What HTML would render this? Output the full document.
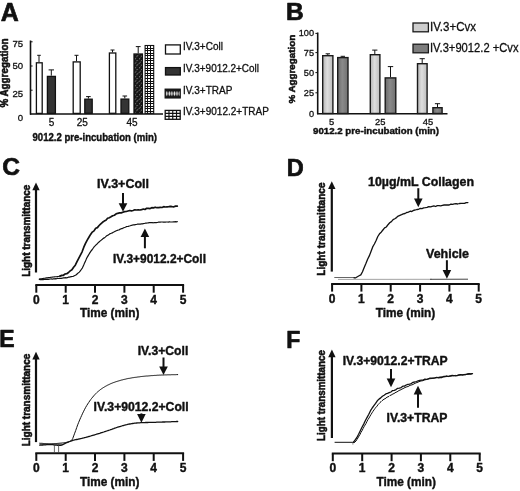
<!DOCTYPE html>
<html><head><meta charset="utf-8"><title>Figure</title>
<style>
html,body{margin:0;padding:0;background:#fff;}
svg{display:block;font-family:"Liberation Sans",sans-serif;fill:#111;}
text{stroke:#111;stroke-width:.3px;stroke-linejoin:round;}
text[font-weight=bold]{stroke-width:.4px;}
text.v{stroke-width:.55px;}
text.big{stroke-width:.7px;}
</style></head><body>
<svg width="520" height="491" viewBox="0 0 520 491">
<defs>
<pattern id="pdotsbar" width="4.3" height="9" patternUnits="userSpaceOnUse" patternTransform="translate(134 53)"><rect width="4.3" height="9" fill="#161616"/><path d="M0.9 1.6l.9-1.1M2.9 3.6l.8-1.2M1.1 6l.8-.9M2.7 8.2l.7-1" stroke="#eee" stroke-width=".75" fill="none"/></pattern>
<pattern id="pdotsleg" width="2.55" height="9" patternUnits="userSpaceOnUse" patternTransform="translate(165.5 89.1)"><rect width="2.55" height="9" fill="#161616"/><ellipse cx="1.27" cy="4.5" rx=".8" ry="2.3" fill="#f4f4f4"/></pattern>
<linearGradient id="glight" x1="0" x2="1" y1="0" y2="0"><stop offset="0" stop-color="#b4b4b4"/><stop offset=".45" stop-color="#dedede"/><stop offset="1" stop-color="#bcbcbc"/></linearGradient>
<linearGradient id="gdark" x1="0" x2="1" y1="0" y2="0"><stop offset="0" stop-color="#6a6a6a"/><stop offset=".45" stop-color="#8a8a8a"/><stop offset="1" stop-color="#707070"/></linearGradient>
</defs>
<rect width="520" height="491" fill="#fff" stroke="none"/>
<text x="0.8" y="20.5" font-size="25" font-weight="bold" class="big">A</text>
<line x1="30.5" y1="40.5" x2="30.5" y2="114.7" stroke="#111" stroke-width="1.6"/>
<line x1="30.0" y1="114.0" x2="163.0" y2="114.0" stroke="#111" stroke-width="1.5"/>
<line x1="30.5" y1="41.8" x2="32.6" y2="41.8" stroke="#111" stroke-width="1"/>
<line x1="30.5" y1="66.0" x2="32.6" y2="66.0" stroke="#111" stroke-width="1"/>
<line x1="30.5" y1="90.2" x2="32.6" y2="90.2" stroke="#111" stroke-width="1"/>
<text x="23.2" y="47.2" font-size="9.6" text-anchor="end">75</text>
<text x="23.2" y="68.6" font-size="9.6" text-anchor="end">50</text>
<text x="23.2" y="97.0" font-size="9.6" text-anchor="end">25</text>
<text x="23.2" y="120.9" font-size="9.6" text-anchor="end">0</text>
<text class="v" transform="translate(7.8 107.6) rotate(-90)" font-size="10" font-weight="bold" textLength="69.0" lengthAdjust="spacingAndGlyphs">% Aggregation</text>
<rect x="36.4" y="62.8" width="5.8" height="50.6" fill="#fff" stroke="#111" stroke-width="1.3"/>
<line x1="39.0" y1="55.3" x2="39.0" y2="62.1" stroke="#111" stroke-width="1"/>
<line x1="37.2" y1="55.3" x2="40.8" y2="55.3" stroke="#111" stroke-width="1"/>
<rect x="47.4" y="76.4" width="8.0" height="37.0" fill="#333" stroke="#111" stroke-width="1.3"/>
<line x1="51.3" y1="69.9" x2="51.3" y2="75.7" stroke="#111" stroke-width="1"/>
<line x1="48.6" y1="69.9" x2="54.0" y2="69.9" stroke="#111" stroke-width="1"/>
<rect x="73.2" y="61.9" width="7.0" height="51.5" fill="#fff" stroke="#111" stroke-width="1.3"/>
<line x1="76.5" y1="55.3" x2="76.5" y2="61.2" stroke="#111" stroke-width="1"/>
<line x1="74.5" y1="55.3" x2="78.5" y2="55.3" stroke="#111" stroke-width="1"/>
<rect x="84.8" y="99.2" width="7.4" height="14.1" fill="#333" stroke="#111" stroke-width="1.3"/>
<line x1="88.4" y1="96.6" x2="88.4" y2="98.6" stroke="#111" stroke-width="1"/>
<line x1="86.1" y1="96.6" x2="90.7" y2="96.6" stroke="#111" stroke-width="1"/>
<rect x="109.4" y="53.0" width="6.4" height="60.3" fill="#fff" stroke="#111" stroke-width="1.3"/>
<line x1="112.5" y1="50.0" x2="112.5" y2="52.4" stroke="#111" stroke-width="1"/>
<line x1="110.5" y1="50.0" x2="114.5" y2="50.0" stroke="#111" stroke-width="1"/>
<rect x="121.0" y="99.1" width="7.8" height="14.3" fill="#333" stroke="#111" stroke-width="1.3"/>
<line x1="124.8" y1="96.0" x2="124.8" y2="98.4" stroke="#111" stroke-width="1"/>
<line x1="122.5" y1="96.0" x2="127.1" y2="96.0" stroke="#111" stroke-width="1"/>
<rect x="134.0" y="54.0" width="8.4" height="59.3" fill="url(#pdotsbar)" stroke="#111" stroke-width="1.3"/>
<line x1="138.2" y1="46.6" x2="138.2" y2="53.4" stroke="#111" stroke-width="1"/>
<line x1="135.8" y1="46.6" x2="140.6" y2="46.6" stroke="#111" stroke-width="1"/>
<rect x="145.1" y="45.5" width="8.6" height="67.9" fill="#fff" stroke="#111" stroke-width="1.1"/>
<path d="M147.90 45.50V114.00M150.80 45.50V114.00M145.00 48.04H153.70M145.00 50.57H153.70M145.00 53.11H153.70M145.00 55.65H153.70M145.00 58.19H153.70M145.00 60.72H153.70M145.00 63.26H153.70M145.00 65.80H153.70M145.00 68.33H153.70M145.00 70.87H153.70M145.00 73.41H153.70M145.00 75.94H153.70M145.00 78.48H153.70M145.00 81.02H153.70M145.00 83.56H153.70M145.00 86.09H153.70M145.00 88.63H153.70M145.00 91.17H153.70M145.00 93.70H153.70M145.00 96.24H153.70M145.00 98.78H153.70M145.00 101.31H153.70M145.00 103.85H153.70M145.00 106.39H153.70M145.00 108.93H153.70M145.00 111.46H153.70" stroke="#111" stroke-width="1.0" fill="none" shape-rendering="crispEdges"/>
<text x="51.5" y="126.1" font-size="10" text-anchor="middle">5</text>
<text x="82.2" y="126.1" font-size="10" text-anchor="middle">25</text>
<text x="132.0" y="126.1" font-size="10" text-anchor="middle">45</text>
<text x="32.5" y="141.2" font-size="10.5" font-weight="bold" textLength="124.5" lengthAdjust="spacingAndGlyphs">9012.2 pre-incubation (min)</text>
<rect x="165.5" y="44.9" width="14.8" height="9.1" fill="#fff" stroke="#111" stroke-width="1.3"/>
<rect x="165.5" y="67.6" width="14.8" height="7.4" fill="#333" stroke="#111" stroke-width="1.3"/>
<rect x="165.2" y="89.2" width="15.0" height="8.7" fill="url(#pdotsleg)" stroke="#111" stroke-width="1.3"/>
<rect x="165.2" y="110.4" width="15.0" height="8.9" fill="#fff" stroke="#111" stroke-width="1.3"/>
<path d="M168.97 110.30V119.30M172.75 110.30V119.30M176.53 110.30V119.30M165.20 113.30H180.30M165.20 116.30H180.30" stroke="#111" stroke-width="1.15" fill="none"/>
<text x="183.0" y="50.0" font-size="10">IV.3+Coll</text>
<text x="183.0" y="71.5" font-size="10" textLength="76.0" lengthAdjust="spacingAndGlyphs">IV.3+9012.2+Coll</text>
<text x="183.0" y="93.5" font-size="10">IV.3+TRAP</text>
<text x="183.0" y="114.7" font-size="10">IV.3+9012.2+TRAP</text>
<text x="285.9" y="20.3" font-size="24.5" font-weight="bold" class="big">B</text>
<line x1="317.7" y1="32.5" x2="317.7" y2="114.2" stroke="#111" stroke-width="1.6"/>
<line x1="317.0" y1="113.8" x2="447.5" y2="113.8" stroke="#111" stroke-width="1.6"/>
<text x="314.0" y="35.6" font-size="9.2" text-anchor="end">100</text>
<text x="314.0" y="55.5" font-size="9.2" text-anchor="end">75</text>
<text x="314.0" y="75.6" font-size="9.2" text-anchor="end">50</text>
<text x="314.0" y="96.4" font-size="9.2" text-anchor="end">25</text>
<text x="314.0" y="116.6" font-size="9.2" text-anchor="end">0</text>
<text class="v" transform="translate(294.6 103.6) rotate(-90)" font-size="9.3" font-weight="bold" textLength="68.8" lengthAdjust="spacingAndGlyphs">% Aggregation</text>
<line x1="315.4" y1="33.4" x2="317.7" y2="33.4" stroke="#111" stroke-width="1"/>
<line x1="315.4" y1="52.6" x2="317.7" y2="52.6" stroke="#111" stroke-width="1"/>
<line x1="315.4" y1="72.6" x2="317.7" y2="72.6" stroke="#111" stroke-width="1"/>
<line x1="315.4" y1="92.8" x2="317.7" y2="92.8" stroke="#111" stroke-width="1"/>
<rect x="322.7" y="55.7" width="10.2" height="57.8" fill="url(#glight)" stroke="#1a1a1a" stroke-width="1.4"/>
<line x1="327.8" y1="53.8" x2="327.8" y2="55.0" stroke="#111" stroke-width="1"/>
<line x1="325.6" y1="53.8" x2="330.0" y2="53.8" stroke="#111" stroke-width="1"/>
<rect x="337.7" y="57.6" width="10.3" height="55.9" fill="url(#gdark)" stroke="#1a1a1a" stroke-width="1.4"/>
<line x1="342.8" y1="56.3" x2="342.8" y2="56.9" stroke="#111" stroke-width="1"/>
<line x1="340.6" y1="56.3" x2="345.0" y2="56.3" stroke="#111" stroke-width="1"/>
<rect x="370.3" y="54.7" width="9.6" height="58.8" fill="url(#glight)" stroke="#1a1a1a" stroke-width="1.4"/>
<line x1="374.8" y1="50.1" x2="374.8" y2="54.0" stroke="#111" stroke-width="1"/>
<line x1="372.2" y1="50.1" x2="377.4" y2="50.1" stroke="#111" stroke-width="1"/>
<rect x="385.2" y="77.9" width="10.6" height="35.5" fill="url(#gdark)" stroke="#1a1a1a" stroke-width="1.4"/>
<line x1="390.5" y1="66.6" x2="390.5" y2="77.2" stroke="#111" stroke-width="1"/>
<line x1="387.8" y1="66.6" x2="393.2" y2="66.6" stroke="#111" stroke-width="1"/>
<rect x="417.5" y="63.7" width="9.6" height="49.8" fill="url(#glight)" stroke="#1a1a1a" stroke-width="1.4"/>
<line x1="422.2" y1="58.7" x2="422.2" y2="63.0" stroke="#111" stroke-width="1"/>
<line x1="419.6" y1="58.7" x2="424.8" y2="58.7" stroke="#111" stroke-width="1"/>
<rect x="432.9" y="107.7" width="9.2" height="5.8" fill="url(#gdark)" stroke="#1a1a1a" stroke-width="1.4"/>
<line x1="437.5" y1="103.7" x2="437.5" y2="107.0" stroke="#111" stroke-width="1"/>
<line x1="434.9" y1="103.7" x2="440.1" y2="103.7" stroke="#111" stroke-width="1"/>
<text x="331.7" y="124.9" font-size="9.4" text-anchor="middle">5</text>
<text x="380.3" y="124.9" font-size="9.4" text-anchor="middle">25</text>
<text x="428.0" y="124.9" font-size="9.4" text-anchor="middle">45</text>
<text x="313.0" y="134.4" font-size="9" font-weight="bold" textLength="126.0" lengthAdjust="spacingAndGlyphs">9012.2 pre-incubation (min)</text>
<rect x="413.0" y="23.0" width="15.4" height="8.8" fill="#cdcdcd" stroke="#1a1a1a" stroke-width="1.3"/>
<rect x="413.0" y="44.2" width="15.4" height="8.6" fill="#7d7d7d" stroke="#1a1a1a" stroke-width="1.3"/>
<text x="430.0" y="31.0" font-size="12" textLength="46.0" lengthAdjust="spacingAndGlyphs">IV.3+Cvx</text>
<text x="430.0" y="52.0" font-size="12" textLength="88.5" lengthAdjust="spacingAndGlyphs">IV.3+9012.2 +Cvx</text>
<text x="2.2" y="175.0" font-size="24.5" font-weight="bold" class="big">C</text>
<line x1="36.0" y1="272.5" x2="36.0" y2="188.6" stroke="#111" stroke-width="2.2"/>
<path d="M32.3 190.3 L39.7 190.3 L36.0 182.6 Z" fill="#111"/>
<text class="v" transform="translate(29.5 276.8) rotate(-90)" font-size="10" font-weight="bold" textLength="92.1" lengthAdjust="spacingAndGlyphs">Light transmittance</text>
<line x1="35.3" y1="285.1" x2="184.1" y2="285.1" stroke="#111" stroke-width="2"/>
<line x1="36.3" y1="285.1" x2="36.3" y2="292.7" stroke="#111" stroke-width="2"/>
<text x="36.3" y="303.9" font-size="12" font-weight="bold" text-anchor="middle">0</text>
<line x1="65.7" y1="285.1" x2="65.7" y2="292.7" stroke="#111" stroke-width="2"/>
<text x="65.7" y="303.9" font-size="12" font-weight="bold" text-anchor="middle">1</text>
<line x1="95.0" y1="285.1" x2="95.0" y2="292.7" stroke="#111" stroke-width="2"/>
<text x="95.0" y="303.9" font-size="12" font-weight="bold" text-anchor="middle">2</text>
<line x1="124.4" y1="285.1" x2="124.4" y2="292.7" stroke="#111" stroke-width="2"/>
<text x="124.4" y="303.9" font-size="12" font-weight="bold" text-anchor="middle">3</text>
<line x1="153.7" y1="285.1" x2="153.7" y2="292.7" stroke="#111" stroke-width="2"/>
<text x="153.7" y="303.9" font-size="12" font-weight="bold" text-anchor="middle">4</text>
<line x1="183.1" y1="285.1" x2="183.1" y2="292.7" stroke="#111" stroke-width="2"/>
<text x="183.1" y="303.9" font-size="12" font-weight="bold" text-anchor="middle">5</text>
<text x="109.7" y="317.3" font-size="12" font-weight="bold" text-anchor="middle" textLength="59.5" lengthAdjust="spacingAndGlyphs">Time (min)</text>
<path d="M39.3 279.0 L40.3 278.8 L41.3 278.7 L42.3 278.5 L43.3 278.4 L44.3 278.2 L45.3 278.1 L46.3 277.9 L47.3 277.8 L48.3 277.6 L49.3 277.5 L50.3 277.4 L51.3 277.2 L52.3 277.1 L53.3 277.0 L54.3 276.9 L55.3 276.8 L56.3 276.7 L57.3 276.6 L58.3 276.5 L59.3 276.3 L60.3 276.1 L61.3 275.9" fill="none" stroke="#111" stroke-width="1.1" stroke-linejoin="round" stroke-linecap="round"/>
<path d="M60.0 276.0 L61.7 275.3 L63.4 275.3 L65.1 274.0 L66.8 273.7 L68.5 272.5 L70.2 270.9 L71.9 269.8 L73.6 267.3 L75.3 265.2 L77.0 261.7 L78.7 258.4 L80.4 255.1 L82.1 251.8 L83.8 247.2 L85.5 243.4 L87.2 240.1 L88.9 237.3 L90.6 234.4 L92.3 232.1 L94.0 230.9 L95.7 228.2 L97.4 227.6 L99.1 225.5 L100.8 223.8 L102.5 222.3 L104.2 221.1 L105.9 220.3 L107.6 218.3 L109.3 217.7 L111.0 216.8 L112.7 215.7 L114.4 215.2 L116.1 213.9 L117.8 213.3 L119.5 212.9 L121.2 212.9 L122.9 212.2 L124.6 211.6 L126.3 211.5 L128.0 211.0 L129.7 210.5 L131.4 210.8 L133.1 210.5 L134.8 209.8 L136.5 210.0 L138.2 209.8 L139.9 210.0 L141.6 209.7 L143.3 209.0 L145.0 209.5 L146.7 208.3 L148.4 208.4 L150.1 208.6 L151.8 207.7 L153.5 207.9 L155.2 207.2 L156.9 207.7 L158.6 207.6 L160.3 207.3 L162.0 207.5 L163.7 206.7 L165.4 207.0 L167.1 206.8 L168.8 206.7 L170.5 206.4 L172.2 206.7 L173.9 206.8 L175.6 206.1 L177.3 206.2" fill="none" stroke="#111" stroke-width="1.7" stroke-linejoin="round" stroke-linecap="round"/>
<path d="M39.3 279.4 L40.3 279.6 L41.3 279.6 L42.3 279.7 L43.3 279.6 L44.3 279.3 L45.3 279.4 L46.3 279.4 L47.3 279.1 L48.3 279.3 L49.3 279.1 L50.3 279.0 L51.3 278.9 L52.3 279.2 L53.3 278.8 L54.3 278.8 L55.3 278.7 L56.3 278.8 L57.3 278.4 L58.3 278.5 L59.3 278.4 L60.3 278.4 L61.3 278.3 L62.3 278.2 L63.3 277.9 L64.3 277.8 L65.3 277.7 L66.3 277.8 L67.3 277.7 L68.3 277.2 L69.3 277.1 L70.3 276.9 L71.3 276.7 L72.3 276.5 L73.3 276.3 L74.3 275.8 L75.3 275.3 L76.3 274.7 L77.3 273.8 L78.3 272.9 L79.3 272.1 L80.3 270.9 L81.3 269.5 L82.3 268.1 L83.3 266.1 L84.3 263.6 L85.3 261.6 L86.3 259.1 L87.3 257.1 L88.3 255.4 L89.3 253.7 L90.3 252.2 L91.3 250.7 L92.3 249.5 L93.3 248.0 L94.3 246.7 L95.3 245.7 L96.3 244.6 L97.3 243.7 L98.3 242.6 L99.3 241.7 L100.3 240.9 L101.3 240.1 L102.3 239.3 L103.3 238.4 L104.3 237.9 L105.3 237.1 L106.3 236.1 L107.3 235.5 L108.3 234.9 L109.3 234.3 L110.3 233.6 L111.3 233.3 L112.3 232.9 L113.3 232.2 L114.3 231.8 L115.3 231.2 L116.3 230.7 L117.3 230.4 L118.3 230.0 L119.3 229.8 L120.3 229.1 L121.3 228.7 L122.3 228.6 L123.3 228.0 L124.3 227.5 L125.3 227.2 L126.3 226.7 L127.3 226.5 L128.3 226.4 L129.3 226.0 L130.3 225.7 L131.3 225.3 L132.3 225.1 L133.3 224.8 L134.3 224.9 L135.3 224.6 L136.3 224.5 L137.3 224.2 L138.3 224.0 L139.3 224.1 L140.3 224.1 L141.3 223.9 L142.3 223.8 L143.3 223.6 L144.3 223.5 L145.3 223.2 L146.3 223.2 L147.3 223.0 L148.3 222.8 L149.3 222.7 L150.3 222.7 L151.3 222.6 L152.3 222.7 L153.3 222.8 L154.3 222.5 L155.3 222.6 L156.3 222.6 L157.3 222.5 L158.3 222.2 L159.3 222.1 L160.3 222.1 L161.3 222.0 L162.3 222.0 L163.3 222.1 L164.3 222.2 L165.3 222.2 L166.3 222.0 L167.3 222.0 L168.3 222.1 L169.3 221.7 L170.3 222.0 L171.3 222.0 L172.3 222.0 L173.3 221.9 L174.3 221.8 L175.3 221.6 L176.3 221.9 L177.3 221.7" fill="none" stroke="#111" stroke-width="1.2" stroke-linejoin="round" stroke-linecap="round"/>
<line x1="123.0" y1="193.0" x2="123.0" y2="204.2" stroke="#111" stroke-width="2"/>
<path d="M118.7 203.2 L127.3 203.2 L123.0 211.8 Z" fill="#111"/>
<line x1="144.9" y1="248.3" x2="144.9" y2="236.1" stroke="#111" stroke-width="2"/>
<path d="M140.6 237.1 L149.2 237.1 L144.9 228.5 Z" fill="#111"/>
<text x="97.0" y="188.0" font-size="12" font-weight="bold" textLength="52.0" lengthAdjust="spacingAndGlyphs">IV.3+Coll</text>
<text x="113.0" y="262.5" font-size="12" font-weight="bold" textLength="93.0" lengthAdjust="spacingAndGlyphs">IV.3+9012.2+Coll</text>
<text x="286.8" y="176.0" font-size="23.5" font-weight="bold" class="big">D</text>
<line x1="331.8" y1="271.6" x2="331.8" y2="187.2" stroke="#111" stroke-width="2.2"/>
<path d="M328.1 188.9 L335.5 188.9 L331.8 181.2 Z" fill="#111"/>
<text class="v" transform="translate(325.3 275.7) rotate(-90)" font-size="10" font-weight="bold" textLength="93.2" lengthAdjust="spacingAndGlyphs">Light transmittance</text>
<line x1="331.1" y1="284.0" x2="479.7" y2="284.0" stroke="#111" stroke-width="2"/>
<line x1="332.1" y1="284.0" x2="332.1" y2="291.6" stroke="#111" stroke-width="2"/>
<text x="332.1" y="302.8" font-size="12" font-weight="bold" text-anchor="middle">0</text>
<line x1="361.4" y1="284.0" x2="361.4" y2="291.6" stroke="#111" stroke-width="2"/>
<text x="361.4" y="302.8" font-size="12" font-weight="bold" text-anchor="middle">1</text>
<line x1="390.7" y1="284.0" x2="390.7" y2="291.6" stroke="#111" stroke-width="2"/>
<text x="390.7" y="302.8" font-size="12" font-weight="bold" text-anchor="middle">2</text>
<line x1="420.1" y1="284.0" x2="420.1" y2="291.6" stroke="#111" stroke-width="2"/>
<text x="420.1" y="302.8" font-size="12" font-weight="bold" text-anchor="middle">3</text>
<line x1="449.4" y1="284.0" x2="449.4" y2="291.6" stroke="#111" stroke-width="2"/>
<text x="449.4" y="302.8" font-size="12" font-weight="bold" text-anchor="middle">4</text>
<line x1="478.7" y1="284.0" x2="478.7" y2="291.6" stroke="#111" stroke-width="2"/>
<text x="478.7" y="302.8" font-size="12" font-weight="bold" text-anchor="middle">5</text>
<text x="405.4" y="317.3" font-size="12" font-weight="bold" text-anchor="middle" textLength="59.5" lengthAdjust="spacingAndGlyphs">Time (min)</text>
<line x1="338.0" y1="279.4" x2="432.0" y2="279.3" stroke="#999" stroke-width="0.9"/>
<line x1="430.0" y1="279.3" x2="468.0" y2="279.2" stroke="#444" stroke-width="1.0"/>
<line x1="334.3" y1="277.5" x2="355.0" y2="277.5" stroke="#555" stroke-width="0.9"/>
<path d="M354.0 277.8 L355.7 277.8 L357.4 276.8 L359.1 275.8 L360.8 274.9 L362.5 271.8 L364.2 267.6 L365.9 263.6 L367.6 259.3 L369.3 255.9 L371.0 251.5 L372.7 246.9 L374.4 244.0 L376.1 240.5 L377.8 236.5 L379.5 233.8 L381.2 232.2 L382.9 230.0 L384.6 227.9 L386.3 227.0 L388.0 224.7 L389.7 222.8 L391.4 221.6 L393.1 219.6 L394.8 218.7 L396.5 217.6 L398.2 216.1 L399.9 215.4 L401.6 214.7 L403.3 213.9 L405.0 213.5 L406.7 212.5 L408.4 212.1 L410.1 211.2 L411.8 211.5 L413.5 210.4 L415.2 210.0 L416.9 209.5 L418.6 209.3 L420.3 208.4 L422.0 208.6 L423.7 207.9 L425.4 207.7 L427.1 207.4 L428.8 206.6 L430.5 206.9 L432.2 206.3 L433.9 205.9 L435.6 206.5 L437.3 205.6 L439.0 205.7 L440.7 205.8 L442.4 205.4 L444.1 205.0 L445.8 205.0 L447.5 204.9 L449.2 205.0 L450.9 204.1 L452.6 204.4 L454.3 203.9 L456.0 203.7 L457.7 204.0 L459.4 203.5 L461.1 203.4 L462.8 203.4 L464.5 203.4 L466.2 202.6 L467.9 202.6" fill="none" stroke="#111" stroke-width="1.3" stroke-linejoin="round" stroke-linecap="round"/>
<line x1="418.3" y1="188.2" x2="418.3" y2="199.6" stroke="#111" stroke-width="2"/>
<path d="M414.0 198.6 L422.6 198.6 L418.3 207.2 Z" fill="#111"/>
<line x1="446.9" y1="260.2" x2="446.9" y2="271.1" stroke="#111" stroke-width="2"/>
<path d="M442.6 270.1 L451.2 270.1 L446.9 278.7 Z" fill="#111"/>
<text x="368.0" y="186.0" font-size="12" font-weight="bold" textLength="106.0" lengthAdjust="spacingAndGlyphs">10µg/mL Collagen</text>
<text x="426.0" y="257.5" font-size="12" font-weight="bold" textLength="43.0" lengthAdjust="spacingAndGlyphs">Vehicle</text>
<text x="-0.7" y="347.0" font-size="23" font-weight="bold" class="big">E</text>
<line x1="36.0" y1="442.1" x2="36.0" y2="357.8" stroke="#111" stroke-width="2.2"/>
<path d="M32.3 359.5 L39.7 359.5 L36.0 351.8 Z" fill="#111"/>
<text class="v" transform="translate(29.5 446.3) rotate(-90)" font-size="10" font-weight="bold" textLength="92.6" lengthAdjust="spacingAndGlyphs">Light transmittance</text>
<line x1="35.3" y1="453.3" x2="184.1" y2="453.3" stroke="#111" stroke-width="2"/>
<line x1="36.3" y1="453.3" x2="36.3" y2="460.9" stroke="#111" stroke-width="2"/>
<text x="36.3" y="472.1" font-size="12" font-weight="bold" text-anchor="middle">0</text>
<line x1="65.7" y1="453.3" x2="65.7" y2="460.9" stroke="#111" stroke-width="2"/>
<text x="65.7" y="472.1" font-size="12" font-weight="bold" text-anchor="middle">1</text>
<line x1="95.0" y1="453.3" x2="95.0" y2="460.9" stroke="#111" stroke-width="2"/>
<text x="95.0" y="472.1" font-size="12" font-weight="bold" text-anchor="middle">2</text>
<line x1="124.4" y1="453.3" x2="124.4" y2="460.9" stroke="#111" stroke-width="2"/>
<text x="124.4" y="472.1" font-size="12" font-weight="bold" text-anchor="middle">3</text>
<line x1="153.7" y1="453.3" x2="153.7" y2="460.9" stroke="#111" stroke-width="2"/>
<text x="153.7" y="472.1" font-size="12" font-weight="bold" text-anchor="middle">4</text>
<line x1="183.1" y1="453.3" x2="183.1" y2="460.9" stroke="#111" stroke-width="2"/>
<text x="183.1" y="472.1" font-size="12" font-weight="bold" text-anchor="middle">5</text>
<text x="109.7" y="486.4" font-size="12" font-weight="bold" text-anchor="middle" textLength="59.5" lengthAdjust="spacingAndGlyphs">Time (min)</text>
<path d="M39.7 443.2 L40.7 443.3 L41.7 443.3 L42.7 443.4 L43.7 443.5 L44.7 443.6 L45.7 443.6 L46.7 443.7 L47.7 443.7 L48.7 443.8 L49.7 443.8 L50.7 443.8 L51.7 443.8 L52.7 443.7 L53.7 443.7 L54.7 443.6 L55.7 443.6 L56.7 443.5 L57.7 443.4 L58.7 443.3 L59.7 443.2 L60.7 443.1 L61.7 443.0 L62.7 442.9 L63.7 442.8 L64.7 442.6 L65.7 442.5 L66.7 442.3 L67.7 442.0 L68.7 441.8 L69.7 441.4 L70.7 440.9 L71.7 440.3 L72.7 438.6 L73.7 435.9 L74.7 433.2 L75.7 430.5 L76.7 427.6 L77.7 424.8 L78.7 422.3 L79.7 419.9 L80.7 417.6 L81.7 415.4 L82.7 413.2 L83.7 411.2 L84.7 409.2 L85.7 407.3 L86.7 405.6 L87.7 404.0 L88.7 402.5 L89.7 401.0 L90.7 399.6 L91.7 398.3 L92.7 397.1 L93.7 395.9 L94.7 394.8 L95.7 393.7 L96.7 392.7 L97.7 391.8 L98.7 391.0 L99.7 390.2 L100.7 389.4 L101.7 388.7 L102.7 388.0 L103.7 387.4 L104.7 386.8 L105.7 386.2 L106.7 385.7 L107.7 385.1 L108.7 384.7 L109.7 384.2 L110.7 383.7 L111.7 383.3 L112.7 382.9 L113.7 382.5 L114.7 382.2 L115.7 381.8 L116.7 381.5 L117.7 381.2 L118.7 380.9 L119.7 380.6 L120.7 380.3 L121.7 380.0 L122.7 379.8 L123.7 379.5 L124.7 379.3 L125.7 379.1 L126.7 378.8 L127.7 378.6 L128.7 378.4 L129.7 378.3 L130.7 378.1 L131.7 377.9 L132.7 377.7 L133.7 377.6 L134.7 377.4 L135.7 377.3 L136.7 377.2 L137.7 377.0 L138.7 376.9 L139.7 376.8 L140.7 376.6 L141.7 376.5 L142.7 376.4 L143.7 376.3 L144.7 376.2 L145.7 376.1 L146.7 376.0 L147.7 376.0 L148.7 375.9 L149.7 375.8 L150.7 375.7 L151.7 375.6 L152.7 375.6 L153.7 375.5 L154.7 375.4 L155.7 375.4 L156.7 375.3 L157.7 375.2 L158.7 375.2 L159.7 375.1 L160.7 375.1 L161.7 375.0 L162.7 375.0 L163.7 375.0 L164.7 374.9 L165.7 374.9 L166.7 374.9 L167.7 374.8 L168.7 374.8 L169.7 374.8 L170.7 374.8 L171.7 374.7 L172.7 374.7 L173.7 374.7 L174.7 374.7 L175.7 374.7 L176.7 374.6 L177.7 374.6" fill="none" stroke="#111" stroke-width="1.0" stroke-linejoin="round" stroke-linecap="round"/>
<path d="M39.7 445.2 L40.7 445.1 L41.7 445.1 L42.7 445.0 L43.7 444.9 L44.7 444.8 L45.7 444.8 L46.7 444.7 L47.7 444.7 L48.7 444.6 L49.7 444.6 L50.7 444.6 L51.7 444.7 L52.7 444.7 L53.7 444.8 L54.7 445.0 L55.7 445.1 L56.7 445.2 L57.7 445.3 L58.7 445.4 L59.7 445.4 L60.7 445.3 L61.7 445.1 L62.7 444.6 L63.7 444.1 L64.7 443.6 L65.7 443.1 L66.7 442.7 L67.7 442.3 L68.7 441.9 L69.7 441.5 L70.7 441.1 L71.7 440.8 L72.7 440.4 L73.7 440.2 L74.7 439.9 L75.7 439.7 L76.7 439.5 L77.7 439.3 L78.7 439.0 L79.7 438.8 L80.7 438.6 L81.7 438.4 L82.7 438.1 L83.7 437.9 L84.7 437.6 L85.7 437.4 L86.7 437.1 L87.7 436.8 L88.7 436.5 L89.7 436.3 L90.7 436.0 L91.7 435.7 L92.7 435.4 L93.7 435.1 L94.7 434.8 L95.7 434.5 L96.7 434.2 L97.7 433.9 L98.7 433.6 L99.7 433.3 L100.7 432.9 L101.7 432.6 L102.7 432.3 L103.7 432.0 L104.7 431.6 L105.7 431.3 L106.7 431.0 L107.7 430.7 L108.7 430.3 L109.7 430.0 L110.7 429.6 L111.7 429.3 L112.7 428.9 L113.7 428.6 L114.7 428.2 L115.7 427.9 L116.7 427.5 L117.7 427.2 L118.7 426.9 L119.7 426.6 L120.7 426.3 L121.7 426.0 L122.7 425.7 L123.7 425.5 L124.7 425.2 L125.7 424.9 L126.7 424.7 L127.7 424.4 L128.7 424.2 L129.7 424.0 L130.7 423.8 L131.7 423.6 L132.7 423.5 L133.7 423.4 L134.7 423.2 L135.7 423.1 L136.7 423.0 L137.7 422.9 L138.7 422.9 L139.7 422.8 L140.7 422.7 L141.7 422.7 L142.7 422.6 L143.7 422.6 L144.7 422.6 L145.7 422.5 L146.7 422.5 L147.7 422.5 L148.7 422.4 L149.7 422.4 L150.7 422.4 L151.7 422.4 L152.7 422.3 L153.7 422.3 L154.7 422.3 L155.7 422.3 L156.7 422.2 L157.7 422.2 L158.7 422.2 L159.7 422.1 L160.7 422.1 L161.7 422.1 L162.7 422.0 L163.7 422.0 L164.7 422.0 L165.7 421.9 L166.7 421.9 L167.7 421.9 L168.7 421.8 L169.7 421.8 L170.7 421.8 L171.7 421.7 L172.7 421.7 L173.7 421.6 L174.7 421.6 L175.7 421.6 L176.7 421.5 L177.7 421.5" fill="none" stroke="#111" stroke-width="1.3" stroke-linejoin="round" stroke-linecap="round"/>
<line x1="39.7" y1="444.2" x2="62.0" y2="444.2" stroke="#111" stroke-width="0.8"/>
<line x1="54.4" y1="444.0" x2="54.4" y2="452.3" stroke="#444" stroke-width="0.8"/>
<line x1="58.6" y1="444.0" x2="58.6" y2="452.3" stroke="#444" stroke-width="0.8"/>
<line x1="163.5" y1="357.5" x2="163.5" y2="367.4" stroke="#111" stroke-width="2"/>
<path d="M159.2 366.4 L167.8 366.4 L163.5 375.0 Z" fill="#111"/>
<line x1="141.4" y1="413.4" x2="141.4" y2="415.1" stroke="#111" stroke-width="2"/>
<path d="M137.1 414.1 L145.7 414.1 L141.4 422.7 Z" fill="#111"/>
<text x="137.7" y="354.5" font-size="12" font-weight="bold" textLength="50.6" lengthAdjust="spacingAndGlyphs">IV.3+Coll</text>
<text x="93.6" y="411.0" font-size="12" font-weight="bold" textLength="95.0" lengthAdjust="spacingAndGlyphs">IV.3+9012.2+Coll</text>
<text x="286.3" y="347.6" font-size="23" font-weight="bold" class="big">F</text>
<line x1="331.9" y1="438.0" x2="331.9" y2="355.6" stroke="#111" stroke-width="2.2"/>
<path d="M328.2 357.3 L335.6 357.3 L331.9 349.6 Z" fill="#111"/>
<text class="v" transform="translate(325.4 440.9) rotate(-90)" font-size="10" font-weight="bold" textLength="90.8" lengthAdjust="spacingAndGlyphs">Light transmittance</text>
<line x1="331.8" y1="453.6" x2="480.7" y2="453.6" stroke="#111" stroke-width="2"/>
<line x1="332.8" y1="453.6" x2="332.8" y2="461.2" stroke="#111" stroke-width="2"/>
<text x="332.8" y="472.4" font-size="12" font-weight="bold" text-anchor="middle">0</text>
<line x1="362.2" y1="453.6" x2="362.2" y2="461.2" stroke="#111" stroke-width="2"/>
<text x="362.2" y="472.4" font-size="12" font-weight="bold" text-anchor="middle">1</text>
<line x1="391.6" y1="453.6" x2="391.6" y2="461.2" stroke="#111" stroke-width="2"/>
<text x="391.6" y="472.4" font-size="12" font-weight="bold" text-anchor="middle">2</text>
<line x1="420.9" y1="453.6" x2="420.9" y2="461.2" stroke="#111" stroke-width="2"/>
<text x="420.9" y="472.4" font-size="12" font-weight="bold" text-anchor="middle">3</text>
<line x1="450.3" y1="453.6" x2="450.3" y2="461.2" stroke="#111" stroke-width="2"/>
<text x="450.3" y="472.4" font-size="12" font-weight="bold" text-anchor="middle">4</text>
<line x1="479.7" y1="453.6" x2="479.7" y2="461.2" stroke="#111" stroke-width="2"/>
<text x="479.7" y="472.4" font-size="12" font-weight="bold" text-anchor="middle">5</text>
<text x="406.2" y="486.4" font-size="12" font-weight="bold" text-anchor="middle" textLength="59.5" lengthAdjust="spacingAndGlyphs">Time (min)</text>
<line x1="334.6" y1="442.3" x2="355.0" y2="442.3" stroke="#111" stroke-width="1.0"/>
<line x1="352.9" y1="442.3" x2="352.9" y2="444.6" stroke="#555" stroke-width="0.7"/>
<path d="M353.5 442.2 L355.2 439.9 L356.9 437.5 L358.6 434.2 L360.3 430.7 L362.0 427.2 L363.7 424.1 L365.4 420.5 L367.1 417.4 L368.8 414.3 L370.5 410.7 L372.2 408.0 L373.9 405.7 L375.6 403.4 L377.3 400.8 L379.0 399.1 L380.7 397.9 L382.4 396.2 L384.1 395.2 L385.8 393.9 L387.5 393.4 L389.2 392.7 L390.9 392.0 L392.6 390.6 L394.3 390.4 L396.0 389.6 L397.7 388.3 L399.4 388.2 L401.1 387.6 L402.8 386.2 L404.5 386.1 L406.2 385.0 L407.9 384.4 L409.6 384.2 L411.3 383.5 L413.0 382.3 L414.7 382.0 L416.4 381.5 L418.1 380.9 L419.8 380.4 L421.5 380.1 L423.2 380.1 L424.9 379.1 L426.6 379.3 L428.3 378.9 L430.0 378.2 L431.7 378.2 L433.4 378.2 L435.1 377.9 L436.8 377.3 L438.5 377.9 L440.2 377.5 L441.9 377.5 L443.6 376.5 L445.3 376.4 L447.0 376.0 L448.7 376.5 L450.4 375.9 L452.1 375.5 L453.8 375.6 L455.5 375.9 L457.2 375.6 L458.9 374.9 L460.6 374.6 L462.3 375.1 L464.0 374.6 L465.7 374.5 L467.4 373.8 L469.1 373.6 L470.8 374.0 L472.5 373.6" fill="none" stroke="#111" stroke-width="1.3" stroke-linejoin="round" stroke-linecap="round"/>
<path d="M355.0 442.0 L356.0 441.0 L357.0 439.4 L358.0 437.9 L359.0 436.0 L360.0 434.5 L361.0 432.3 L362.0 430.8 L363.0 428.7 L364.0 426.8 L365.0 425.1 L366.0 423.5 L367.0 421.4 L368.0 419.5 L369.0 418.0 L370.0 416.2 L371.0 414.5 L372.0 412.9 L373.0 411.3 L374.0 409.9 L375.0 408.5 L376.0 407.2 L377.0 406.2 L378.0 404.7 L379.0 403.7 L380.0 402.5 L381.0 401.7 L382.0 400.7 L383.0 400.0 L384.0 399.1 L385.0 398.8 L386.0 398.0 L387.0 397.2 L388.0 396.8 L389.0 396.4 L390.0 395.4 L391.0 395.2 L392.0 394.5 L393.0 393.9 L394.0 393.6 L395.0 392.8 L396.0 392.3 L397.0 391.8 L398.0 391.3 L399.0 390.4 L400.0 390.2 L401.0 389.6 L402.0 389.1 L403.0 388.6 L404.0 388.1 L405.0 387.5 L406.0 387.2 L407.0 386.7 L408.0 386.6 L409.0 385.9 L410.0 385.4 L411.0 385.0 L412.0 384.9 L413.0 384.4 L414.0 383.9 L415.0 383.3 L416.0 382.9 L417.0 382.5 L418.0 382.2 L419.0 381.6 L420.0 381.4 L421.0 380.9 L422.0 380.9 L423.0 380.6 L424.0 380.1 L425.0 379.7 L426.0 379.8 L427.0 379.3 L428.0 379.1 L429.0 378.7 L430.0 378.7 L431.0 378.6 L432.0 378.5 L433.0 378.2 L434.0 378.2 L435.0 377.8 L436.0 377.7 L437.0 377.5 L438.0 377.5 L439.0 377.2 L440.0 377.1 L441.0 377.1 L442.0 376.9 L443.0 376.9 L444.0 376.8 L445.0 376.8 L446.0 376.6 L447.0 376.5 L448.0 376.5 L449.0 376.1 L450.0 376.0 L451.0 376.2 L452.0 375.6 L453.0 375.8 L454.0 375.7 L455.0 375.3 L456.0 375.5 L457.0 375.5 L458.0 375.2 L459.0 375.2 L460.0 375.1 L461.0 374.7 L462.0 374.8 L463.0 374.7 L464.0 374.8 L465.0 374.7 L466.0 374.6 L467.0 374.4 L468.0 374.4 L469.0 374.2 L470.0 374.1 L471.0 373.8 L472.0 373.6" fill="none" stroke="#111" stroke-width="1.0" stroke-linejoin="round" stroke-linecap="round"/>
<line x1="391.0" y1="368.9" x2="391.0" y2="379.6" stroke="#111" stroke-width="2"/>
<path d="M386.7 378.6 L395.3 378.6 L391.0 387.2 Z" fill="#111"/>
<line x1="418.0" y1="407.7" x2="418.0" y2="393.4" stroke="#111" stroke-width="2"/>
<path d="M413.7 394.4 L422.3 394.4 L418.0 385.8 Z" fill="#111"/>
<text x="342.7" y="364.6" font-size="12" font-weight="bold" textLength="105.0" lengthAdjust="spacingAndGlyphs">IV.3+9012.2+TRAP</text>
<text x="386.5" y="421.5" font-size="12" font-weight="bold" textLength="61.0" lengthAdjust="spacingAndGlyphs">IV.3+TRAP</text>
</svg>
</body></html>
